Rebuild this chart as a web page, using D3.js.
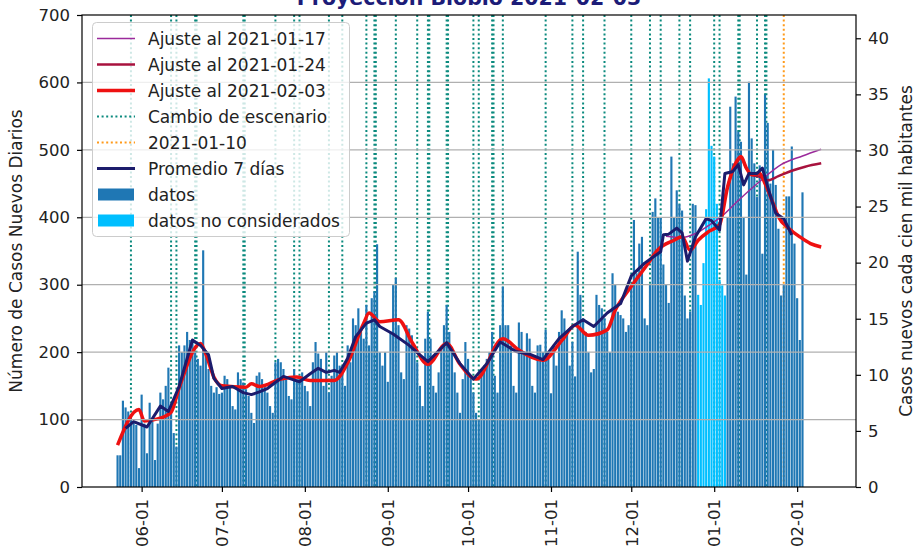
<!DOCTYPE html>
<html>
<head>
<meta charset="utf-8">
<script src="https://cdn.jsdelivr.net/npm/d3@7"></script>
<style>
body{margin:0;background:#fff;}
text{font-family:"DejaVu Sans",sans-serif;}
</style>
</head>
<body>
<script>
(function(){

//daily new cases, one array per month, first bar is 2020-05-23
var firstDay = "2020-05-23";
var casesMay = [47, 47, 128, 118, 112, 108, 98, 92, 28];
var casesJun = [137, 94, 50, 125, 100, 40, 94, 140, 130, 150, 177, 113, 80, 60, 210,
    200, 210, 230, 218, 218, 200, 190, 180, 351, 200, 175, 150, 140, 148, 138];
var casesJul = [140, 165, 160, 150, 120, 115, 170, 160, 155, 145, 135, 110, 95, 165, 170, 160,
    150, 140, 120, 110, 185, 190, 185, 175, 160, 135, 130, 175, 160, 165, 170];
var casesAug = [150, 142, 120, 185, 215, 198, 190, 150, 200, 140, 165, 195, 200, 180, 170, 150,
    210, 185, 250, 240, 265, 230, 220, 270, 210, 280, 290, 360, 200, 180, 200];
var casesSep = [156, 230, 300, 310, 240, 170, 160, 240, 235, 225, 210, 185, 150, 120, 220,
    260, 220, 150, 140, 170, 205, 240, 270, 230, 200, 170, 140, 110, 160, 215];
var casesOct = [190, 165, 140, 110, 100, 175, 180, 190, 200, 230, 165, 140, 240, 297, 240, 240,
    210, 150, 140, 244, 230, 200, 228, 220, 150, 140, 210, 211, 200, 233, 190];
var casesNov = [139, 211, 180, 230, 262, 250, 230, 180, 215, 164, 349, 285, 250, 230, 200,
    170, 175, 285, 270, 265, 250, 230, 200, 317, 300, 260, 255, 250, 230, 240];
var casesDec = [300, 396, 317, 361, 371, 250, 240, 300, 408, 428, 400, 400, 330, 300, 273, 490,
    400, 440, 419, 410, 284, 250, 260, 420, 418, 285, 270, 332, 412, 606, 506];
var casesJan = [490, 420, 307, 299, 284, 400, 564, 480, 579, 527, 512, 400, 315, 601, 517, 480,
    430, 477, 346, 582, 540, 450, 500, 448, 383, 284, 300, 431, 431, 505, 361];
var casesFeb = [280, 218, 437];

//days not used by the fit
var excludedFrom = "2020-12-26",
    excludedTo = "2021-01-05";

//7 day average (centered)
var avgDates = ["2020-05-26", "2020-05-29", "2020-06-03", "2020-06-08", "2020-06-11", "2020-06-15",
    "2020-06-20", "2020-06-23", "2020-06-26", "2020-06-28", "2020-07-01", "2020-07-05", "2020-07-09",
    "2020-07-12", "2020-07-15", "2020-07-18", "2020-07-24", "2020-07-27", "2020-07-30", "2020-08-03",
    "2020-08-06", "2020-08-09", "2020-08-12", "2020-08-14", "2020-08-17", "2020-08-20", "2020-08-24",
    "2020-08-27", "2020-08-29", "2020-09-03", "2020-09-09", "2020-09-13", "2020-09-16", "2020-09-19",
    "2020-09-23", "2020-09-28", "2020-10-03", "2020-10-08", "2020-10-13", "2020-10-16", "2020-10-19",
    "2020-10-24", "2020-10-29", "2020-11-04", "2020-11-09", "2020-11-13", "2020-11-17", "2020-11-22",
    "2020-11-27", "2020-12-01", "2020-12-06", "2020-12-12", "2020-12-13", "2020-12-15", "2020-12-18",
    "2020-12-20", "2020-12-22", "2020-12-25", "2020-12-29", "2020-12-31", "2021-01-03", "2021-01-05",
    "2021-01-08", "2021-01-10", "2021-01-12", "2021-01-14", "2021-01-17", "2021-01-19", "2021-01-21",
    "2021-01-24", "2021-01-27", "2021-01-30"];
var avgValues = [87, 97, 89, 120, 112, 149,
    218, 210, 196, 161, 146, 149, 140,
    137, 141, 146, 164, 160, 156, 168,
    176, 170, 173, 170, 191, 223, 243,
    248, 238, 227, 210, 196, 186, 198,
    214, 183, 160, 183, 215, 208, 201,
    197, 189, 220, 238, 248, 238, 258,
    272, 313, 332, 349, 374, 375, 384,
    377, 335, 371, 398, 395, 381, 465,
    468, 478, 448, 465, 465, 473, 445,
    406, 398, 374];

//fit up to 2021-02-03
var fit0203Dates = ["2020-05-23", "2020-05-31", "2020-06-02", "2020-06-07", "2020-06-12", "2020-06-15",
    "2020-06-23", "2020-06-25", "2020-06-28", "2020-07-01", "2020-07-10", "2020-07-12", "2020-07-15",
    "2020-07-23", "2020-07-29", "2020-08-03", "2020-08-12", "2020-08-17", "2020-08-23", "2020-08-25",
    "2020-08-29", "2020-09-05", "2020-09-10", "2020-09-16", "2020-09-23", "2020-09-28", "2020-10-04",
    "2020-10-14", "2020-10-20", "2020-10-29", "2020-11-05", "2020-11-10", "2020-11-15", "2020-11-22",
    "2020-11-25", "2020-11-30", "2020-12-07", "2020-12-11", "2020-12-17", "2020-12-20", "2020-12-23",
    "2020-12-26", "2020-12-30", "2021-01-03", "2021-01-06", "2021-01-09", "2021-01-11", "2021-01-13",
    "2021-01-15", "2021-01-18", "2021-01-20", "2021-01-23", "2021-01-25", "2021-01-29", "2021-02-02",
    "2021-02-06", "2021-02-10"];
var fit0203Values = [62, 115, 98, 101, 111, 147,
    213, 197, 163, 150, 148, 153, 149,
    160, 163, 158, 158, 184, 243, 258,
    245, 248, 215, 182, 213, 182, 160,
    220, 203, 188, 217, 240, 225, 233,
    262, 292, 330, 352, 366, 371, 351,
    366, 379, 389, 445, 480, 490, 473,
    463, 465, 450, 421, 401, 383, 371,
    361, 356];

//fit up to 2021-01-24
var fit0124Dates = ["2021-01-03", "2021-01-06", "2021-01-09", "2021-01-11", "2021-01-13", "2021-01-15",
    "2021-01-18", "2021-01-21", "2021-01-25", "2021-01-30", "2021-02-04", "2021-02-10"];
var fit0124Values = [389, 445, 478, 488, 473, 463, 460, 455, 461, 469, 475, 480];

//fit up to 2021-01-17
var fit0117Dates = ["2020-12-14", "2020-12-20", "2020-12-25", "2020-12-30", "2021-01-04", "2021-01-10",
    "2021-01-18", "2021-01-26", "2021-02-03", "2021-02-10"];
var fit0117Values = [372, 370, 376, 388, 402, 425, 453, 478, 491, 501];

//scenario changes (repeated dates are several regions on the same day)
var scenarioDates = ["2020-05-28", "2020-06-12", "2020-06-14", "2020-06-21", "2020-06-21", "2020-07-09",
    "2020-07-09", "2020-07-21", "2020-07-28", "2020-07-30", "2020-08-10", "2020-08-15", "2020-08-24",
    "2020-08-27", "2020-08-27", "2020-09-04", "2020-09-12", "2020-09-16", "2020-09-16", "2020-09-23",
    "2020-09-23", "2020-10-03", "2020-10-05", "2020-10-10", "2020-10-10", "2020-10-14", "2020-10-30",
    "2020-11-09", "2020-11-13", "2020-11-21", "2020-12-01", "2020-12-08", "2020-12-12", "2020-12-19",
    "2020-12-23", "2021-01-01", "2021-01-03", "2021-01-10", "2021-01-10", "2021-01-17", "2021-01-20",
    "2021-01-20"];
var markerDate = "2021-01-27"; //line shown as 2021-01-10

var population = 1663696;
var leftTicks = [0, 100, 200, 300, 400, 500, 600, 700];
var rightTicks = [0, 5, 10, 15, 20, 25, 30, 35, 40];
var legendLabels = ["Ajuste al 2021-01-17", "Ajuste al 2021-01-24", "Ajuste al 2021-02-03",
    "Cambio de escenario", "2021-01-10", "Promedio 7 días", "datos", "datos no considerados"];

var parse = d3.timeParse("%Y-%m-%d");

//chart frame
var width = 916, height = 550,
    left = 82, right = 856, top = 15, bottom = 487;

var svg = d3.select("body")
    .append("svg")
    .attr("width", width)
    .attr("height", height);

svg.append("clipPath")
    .attr("id", "plotClip")
    .append("rect")
    .attr("x", left).attr("y", top)
    .attr("width", right - left).attr("height", bottom - top);

var x = d3.scaleTime()
    .domain([new Date(2020, 4, 9, 17), new Date(2021, 1, 23)])
    .range([left, right]);
var y = d3.scaleLinear().domain([0, 700]).range([bottom, top]);
var y2 = d3.scaleLinear().domain([0, 700 * 100000 / population]).range([bottom, top]);

//join the months into one daily series
var daily = [].concat(casesMay, casesJun, casesJul, casesAug, casesSep, casesOct,
        casesNov, casesDec, casesJan, casesFeb)
    .map(function(v, i){
        return {date: d3.timeDay.offset(parse(firstDay), i), value: v};
    });
var exFrom = parse(excludedFrom), exTo = parse(excludedTo);

var plot = svg.append("g").attr("clip-path", "url(#plotClip)");

//scenario lines, behind everything else
var seen = {};
plot.selectAll(".scenario")
    .data(scenarioDates)
    .enter()
    .append("line")
    .attr("class", "scenario")
    .attr("x1", function(d){
        seen[d] = (seen[d] || 0) + 1;
        return x(parse(d)) + (seen[d] - 1) * 1.4;
    })
    .attr("x2", function(){ return d3.select(this).attr("x1"); })
    .attr("y1", top).attr("y2", bottom)
    .style("stroke", "#0b8a7e")
    .style("stroke-width", 2)
    .style("stroke-dasharray", "2,2.6");

plot.append("line")
    .attr("x1", x(parse(markerDate))).attr("x2", x(parse(markerDate)))
    .attr("y1", top).attr("y2", bottom)
    .style("stroke", "#ff9a1a")
    .style("stroke-width", 2)
    .style("stroke-dasharray", "2,2.6");

//daily bars
var dayW = x(parse("2020-06-02")) - x(parse("2020-06-01"));
plot.selectAll(".bars")
    .data(daily)
    .enter()
    .append("rect")
    .attr("class", "bars")
    .attr("x", function(d){ return x(d.date) - dayW * 0.4; })
    .attr("width", dayW * 0.8)
    .attr("y", function(d){ return y(d.value); })
    .attr("height", function(d){ return bottom - y(d.value); })
    .style("fill", function(d){
        return (d.date >= exFrom && d.date <= exTo) ? "#00bfff" : "#1f77b4";
    });

//horizontal grid
svg.selectAll(".grid")
    .data(leftTicks.slice(1, -1))
    .enter()
    .append("line")
    .attr("class", "grid")
    .attr("x1", left).attr("x2", right)
    .attr("y1", function(d){ return y(d); })
    .attr("y2", function(d){ return y(d); })
    .style("stroke", "#b0b0b0")
    .style("stroke-width", 1.2);

//fits and average
var line = d3.line()
    .x(function(d){ return x(d[0]); })
    .y(function(d){ return y(d[1]); })
    .curve(d3.curveMonotoneX);

function series(dates, values){
    return dates.map(function(d, i){ return [parse(d), values[i]]; });
}

var curves = [
    {data: series(fit0117Dates, fit0117Values), color: "#9b2a9b", w: 1.5, curve: d3.curveMonotoneX},
    {data: series(fit0124Dates, fit0124Values), color: "#a8123e", w: 2.5, curve: d3.curveMonotoneX},
    {data: series(fit0203Dates, fit0203Values), color: "#ee1111", w: 3.5, curve: d3.curveMonotoneX},
    {data: series(avgDates, avgValues), color: "#1c1c6c", w: 3, curve: d3.curveLinear}
];
curves.forEach(function(c){
    plot.append("path")
        .datum(c.data)
        .attr("d", line.curve(c.curve))
        .style("fill", "none")
        .style("stroke", c.color)
        .style("stroke-width", c.w)
        .style("stroke-linejoin", "round");
});

//axes
var fontSize = "16.5px";
var xAxis = svg.append("g")
    .attr("transform", "translate(0," + bottom + ")")
    .call(d3.axisBottom(x)
        .ticks(d3.timeMonth.every(1))
        .tickFormat(d3.timeFormat("%m-%d"))
        .tickSize(5));
xAxis.selectAll("text")
    .attr("transform", "rotate(-90)")
    .attr("text-anchor", "end")
    .attr("x", -12)
    .attr("y", 0)
    .attr("dy", "0.35em");

var yAxis = svg.append("g")
    .attr("transform", "translate(" + left + ",0)")
    .call(d3.axisLeft(y).tickValues(leftTicks).tickSize(5).tickPadding(7));

var yAxis2 = svg.append("g")
    .attr("transform", "translate(" + right + ",0)")
    .call(d3.axisRight(y2).tickValues(rightTicks).tickSize(5).tickPadding(7));

[xAxis, yAxis, yAxis2].forEach(function(a){
    a.select(".domain").remove();
    a.selectAll("line").style("stroke", "#000").style("stroke-width", 1.2);
    a.selectAll("text").style("font-size", fontSize).style("fill", "#222")
        .style("font-family", "DejaVu Sans");
});

//frame
svg.append("rect")
    .attr("x", left).attr("y", top)
    .attr("width", right - left).attr("height", bottom - top)
    .style("fill", "none")
    .style("stroke", "#000")
    .style("stroke-width", 1.2);

//titles (the title sits partly above the page edge, as in the original)
svg.append("text")
    .attr("x", (left + right) / 2)
    .attr("y", 5)
    .attr("text-anchor", "middle")
    .style("font-size", "20.5px")
    .style("font-weight", "bold")
    .style("fill", "#1c1c78")
    .text("Proyección Biobío 2021-02-03");

svg.append("text")
    .attr("transform", "translate(21.5," + (top + bottom) / 2 + ") rotate(-90)")
    .attr("text-anchor", "middle")
    .style("font-size", "17px")
    .style("fill", "#222")
    .text("Número de Casos Nuevos Diarios");

svg.append("text")
    .attr("transform", "translate(912," + (top + bottom) / 2 + ") rotate(-90)")
    .attr("text-anchor", "middle")
    .style("font-size", "17px")
    .style("fill", "#222")
    .text("Casos nuevos cada cien mil habitantes");

//legend
var handles = [
    {type: "line", color: "#9b2a9b", w: 1.5},
    {type: "line", color: "#a8123e", w: 2.5},
    {type: "line", color: "#ee1111", w: 3.5},
    {type: "dot", color: "#0b8a7e", w: 2},
    {type: "dot", color: "#ff9a1a", w: 2},
    {type: "line", color: "#1c1c6c", w: 3},
    {type: "patch", color: "#1f77b4"},
    {type: "patch", color: "#00bfff"}
];

var legend = svg.append("g");
legend.append("rect")
    .attr("x", 92.5).attr("y", 22.5)
    .attr("width", 257).attr("height", 214)
    .attr("rx", 4)
    .style("fill", "#fff")
    .style("fill-opacity", 0.8)
    .style("stroke", "#cccccc");

handles.forEach(function(h, i){
    var cy = 38.5 + i * 26;
    if (h.type == "patch"){
        legend.append("rect")
            .attr("x", 98).attr("y", cy - 6)
            .attr("width", 36).attr("height", 12)
            .style("fill", h.color);
    } else {
        legend.append("line")
            .attr("x1", 97).attr("x2", 135)
            .attr("y1", cy).attr("y2", cy)
            .style("stroke", h.color)
            .style("stroke-width", h.w)
            .style("stroke-dasharray", h.type == "dot" ? "2,2.6" : null);
    }
    legend.append("text")
        .attr("x", 148).attr("y", cy)
        .attr("dy", "0.36em")
        .style("font-size", "17px")
        .style("fill", "#222")
        .text(legendLabels[i]);
});

})();
</script>
</body>
</html>
